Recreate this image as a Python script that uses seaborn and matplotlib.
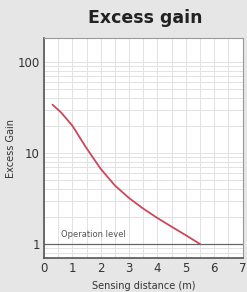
import numpy as np
import pandas as pd
import matplotlib
matplotlib.use('Agg')
import matplotlib.pyplot as plt
import matplotlib.ticker as mticker
import seaborn as sns

# excess gain curve
distance = [0.3, 0.6, 1.0, 1.5, 2.0, 2.5, 3.0, 3.5, 4.0, 4.5, 5.0, 5.5]
gain = [34, 28, 20, 11.3, 6.7, 4.4, 3.2, 2.45, 1.93, 1.55, 1.25, 1.0]
xtick_labels = ['0', '1', '2', '3', '4', '5', '6', '7']
ytick_vals = [1, 10, 100]
oper_level = 1

df = pd.DataFrame({'dist': distance, 'gain': gain})

sns.set_style('white')
plt.rcParams['font.family'] = ['DejaVu Sans']

fig = plt.figure(figsize=(2.47, 2.92), dpi=100, facecolor='#e6e6e6')
ax = fig.add_axes([0.178, 0.116, 0.804, 0.754])
ax.set_facecolor('white')

ax.set_yscale('log')
ax.set_xlim(0, 7)
ax.set_ylim(0.70, 184)

ax.xaxis.set_minor_locator(mticker.MultipleLocator(0.5))
ax.xaxis.set_major_locator(mticker.MultipleLocator(1))
ax.yaxis.set_major_locator(mticker.FixedLocator(ytick_vals))
ax.yaxis.set_minor_locator(mticker.LogLocator(base=10, subs=np.arange(2, 10)))
ax.yaxis.set_minor_formatter(mticker.NullFormatter())
ax.set_yticklabels([str(v) for v in ytick_vals])
ax.set_xticks(range(len(xtick_labels)))
ax.set_xticklabels(xtick_labels)

ax.grid(which='both', color='#e2e2e2', linewidth=0.7)
ax.set_axisbelow(True)

sns.lineplot(data=df, x='dist', y='gain', color='#c9495a', linewidth=1.3, ax=ax)

ax.axhline(oper_level, color='#666666', linewidth=0.9)
ax.text(0.6, 1.13, 'Operation level', fontsize=6, color='#555555', va='bottom')

ax.tick_params(axis='both', which='both', length=0, labelsize=8.5, colors='#333333', pad=3)

for s in ['left', 'bottom']:
    ax.spines[s].set_color('#555555')
    ax.spines[s].set_linewidth(1.2)
for s in ['top', 'right']:
    ax.spines[s].set_color('#999999')
    ax.spines[s].set_linewidth(0.8)

ax.set_xlabel('Sensing distance (m)', fontsize=7, color='#333333', labelpad=4)
ax.set_ylabel('Excess Gain', fontsize=7, color='#333333')
ax.yaxis.set_label_coords(-0.14, 0.5)
fig.text(0.587, 0.94, 'Excess gain', ha='center', va='center', fontsize=12.5,
         fontweight='bold', color='#222222')

plt.savefig('out.png', dpi=100, facecolor=fig.get_facecolor())
